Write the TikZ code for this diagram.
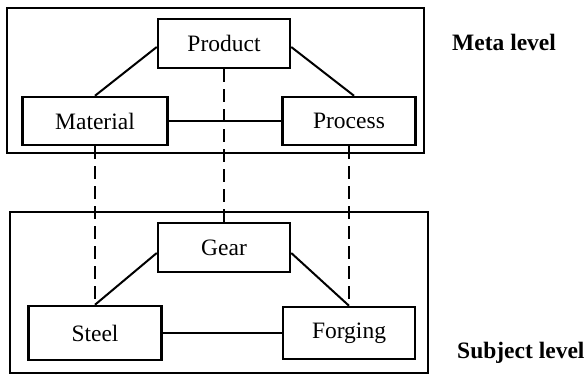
\documentclass[tikz,border=0pt]{standalone}
\usepackage{fontspec}
\setmainfont{Liberation Serif}
\begin{document}
\begin{tikzpicture}[x=1pt,y=-1pt,
  entity/.style={draw, line width=2.5pt, inner sep=0pt, font=\fontsize{23.5}{28}\selectfont},
  frame/.style={draw, line width=2.5pt},
  link/.style={line width=2pt},
  mapping/.style={line width=2pt, dash pattern=on 13pt off 7pt},
  levelname/.style={anchor=base west, inner sep=0pt, font=\fontsize{23.5}{28}\selectfont\bfseries}]
\useasboundingbox (0,0) rectangle (586,376);

% level frames
\draw[frame] (7,8) rectangle (424,153);
\draw[frame] (10,212) rectangle (428,373);

% meta level entities
\node[entity, minimum width=145pt, minimum height=48pt] (material) at (95,121) {Material};
\node[entity, minimum width=132pt, minimum height=49pt] (product) at (224,43.5) {Product};
\node[entity, minimum width=133pt, minimum height=48pt] (process) at (349,121) {Process};

% subject level entities
\node[entity, minimum width=132pt, minimum height=49pt] (gear) at (224,247.5) {Gear};
\node[entity, minimum width=133pt, minimum height=54pt] (steel) at (95,333) {Steel};
\node[entity, minimum width=132pt, minimum height=52pt] (forging) at (349,333) {Forging};

% relations within each level
\draw[link] ([yshift=-3.5pt]product.west) -- (material.north);
\draw[link] ([yshift=-3.5pt]product.east) -- ([xshift=5pt]process.north);
\draw[link] (material.east) -- (process.west);
\draw[link] ([yshift=-5.5pt]gear.west) -- (steel.north);
\draw[link] ([yshift=-5.5pt]gear.east) -- (forging.north);
\draw[link] (steel.east) -- (forging.west);

% instantiation between levels
\draw[mapping] (material.south) -- (steel.north);
\draw[mapping] (product.south) -- (gear.north);
\draw[mapping] (process.south) -- (forging.north);

% level names
\node[levelname] (meta) at (452,50) {Meta level};
\node[levelname] (subject) at (457,358) {Subject level};
\end{tikzpicture}
\end{document}
